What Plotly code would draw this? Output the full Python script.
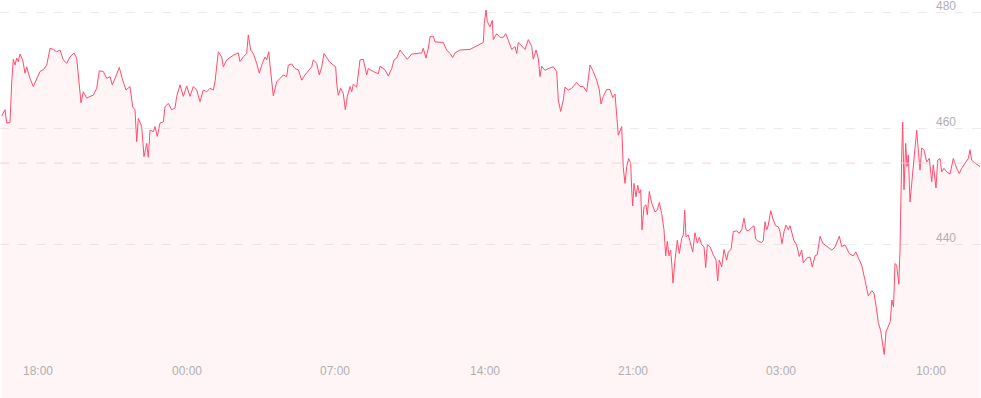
import plotly.graph_objects as go

# sample index (time position) and price values
t = [1.7, 5, 6.7, 10, 11.7, 13.3, 15, 16.7, 18.3, 20, 22.7, 25, 26.7, 30, 33.3, 36.7, 40, 43.3, 46.7, 50,
     53.3, 56.7, 60, 63.3, 66.7, 70, 74, 76.7, 79, 81, 83.3, 86.7, 90, 93.3, 96.7, 99.3, 103.3, 106.7, 110, 112.3,
     115, 119.3, 122.7, 126, 130, 132.7, 135, 136.7, 138.3, 141.7, 144, 146.7, 148.3, 150, 153.3, 155, 157.3, 160, 163.3, 165,
     168.3, 171.7, 175, 176.7, 180, 183.3, 186.7, 190, 193.3, 196.7, 200, 203.3, 206.7, 210, 213.3, 215, 218.3, 221.7, 223.3, 226.7,
     233.3, 238.3, 240, 243.3, 246.7, 248.3, 250.7, 253.3, 256.7, 259.3, 261.7, 265, 266.7, 268.7, 270.7, 273.3, 276.7, 280, 283.3, 286.7,
     288.3, 291.7, 295, 298.3, 301.7, 305, 308.3, 311.7, 313.3, 316.7, 319.3, 321.7, 324, 326.7, 329.3,
     333.3, 335.7, 336.7, 338.3, 340.7, 343.3, 345.3, 347.3, 350, 351.7, 353.3, 356.7, 360, 363.3, 366.7, 368.3, 373.3, 378.3, 380, 385,
     388.3, 391.7, 394, 396.7, 400, 403.3, 407.3, 411.7, 416.7, 421.7, 423.3, 426, 428.3, 430, 433.3, 435, 443.3, 446.7, 450, 452.7,
     455, 460, 470, 473.3, 480, 483.3, 484.3, 486, 487.3, 490, 492.3, 493.3, 496.7, 500, 503.3, 505.7, 508.3, 511.7, 515, 516.7,
     518.3, 521.7, 525, 528.3, 531.7, 533.3, 536, 538.3, 540, 541.7, 545, 548.3, 553.3, 556.7, 558.3, 560.7, 563.3, 565, 568.3, 571.7,
     576.7, 580, 583.3, 586.7, 590, 593.3, 596.7, 599.3, 601, 603.3, 606.7, 610, 612.7, 615, 616.7, 618.3, 621.7, 622.5, 623.3, 625,
     626.7, 628.7, 630.7, 631.7, 632.7, 634, 636, 637.7, 639.3, 640.7, 642, 644, 646, 647.3, 649.3, 651.7, 655, 657.3, 659.3, 661.7,
     664, 665.7, 667.3, 669, 670.7, 672, 673, 675, 677.3, 679.3, 681.7, 683.3, 684.7, 686, 688.3, 690, 692.7, 695, 697.3, 699.3,
     701.7, 704, 705.7, 707.3, 710, 713.3, 716, 717.7, 719.3, 721.7, 724, 726.7, 728.3, 731, 733.3, 736.7, 739.3, 741.7, 744, 746,
     748.3, 751.7, 754, 755.7, 758.3, 761.7, 763.3, 765, 766.7, 768.3, 770.7, 773.3, 775.7, 778.3, 780, 782, 784, 786, 788.3, 790,
     791.7, 794, 796.7, 799.3, 801.7, 803.3, 806.7, 810, 812.3, 815, 817.3, 820, 822.7, 825, 828.3, 831.7, 835, 839.3, 841.7, 845,
     849.3, 853.3, 855.7, 858.3, 861.7, 865, 866.7, 868.3, 871.7, 874, 876.3, 878.3, 880.7, 882.5, 884.2, 886, 888.3, 890.3, 891.8, 893.5,
     895, 896.7, 898.8, 900, 901.7, 902.7, 904, 905.7, 907, 908.3, 910, 911.7, 913.3, 915, 916.7, 918.3, 920, 921.7, 924, 926.7,
     929.3, 931.7, 933.3, 936, 937.7, 940, 941.7, 944, 946.7, 950, 953.3, 956.7, 959.3, 961.7, 965, 968.3, 970, 971.7, 975, 977.3, 980]

price = [462.1, 463.2, 460.9, 461.0, 467.8, 471.9, 470.9, 472.1, 471.5, 472.8, 471.8, 469.5, 470.6, 468.6, 467.2, 468.6, 469.8, 470.1, 470.9, 473.8,
         473.6, 473.2, 473.5, 471.8, 471.2, 472.3, 473.0, 472.1, 468.3, 464.4, 466.3, 465.2, 465.5, 465.7, 466.9, 469.9, 469.8, 468.6, 468.9, 467.5,
         468.6, 470.5, 468.3, 466.6, 467.2, 463.7, 463.2, 457.7, 461.7, 460.3, 455.1, 457.4, 455.0, 459.7, 459.4, 460.3, 458.6, 460.9, 461.1, 463.7,
         464.3, 463.2, 463.5, 465.5, 467.5, 465.5, 467.3, 465.5, 467.2, 466.6, 464.6, 466.6, 466.3, 466.9, 466.6, 468.0, 473.2, 472.3, 470.6, 471.8,
         472.6, 473.0, 471.5, 472.3, 472.9, 476.1, 473.5, 472.9, 471.2, 469.5, 470.9, 472.3, 471.8, 473.2, 469.8, 465.6, 468.0, 468.6, 469.2, 468.9,
         470.9, 471.1, 470.3, 470.1, 468.3, 469.2, 469.8, 470.6, 471.8, 471.2, 469.2, 470.6, 472.9, 472.1, 471.5,
         470.9, 470.6, 467.8, 465.7, 466.9, 466.0, 463.2, 465.5, 467.2, 466.3, 467.6, 467.1, 471.8, 471.9, 469.2, 470.3, 469.8, 469.4, 470.7, 470.1,
         469.0, 470.3, 471.8, 472.1, 473.5, 472.8, 471.9, 472.8, 472.9, 473.0, 473.8, 472.1, 473.8, 475.8, 475.9, 474.9, 474.8, 473.5, 472.9, 472.2,
         473.0, 473.5, 473.6, 473.9, 474.4, 474.8, 478.1, 480.4, 478.4, 477.5, 478.6, 475.3, 476.3, 475.7, 475.7, 476.3, 475.2, 473.6, 474.1, 472.9,
         474.8, 474.1, 473.6, 475.3, 474.1, 471.9, 473.5, 472.1, 468.9, 470.7, 470.0, 470.3, 470.6, 469.8, 464.9, 462.9, 464.9, 467.1, 466.6, 466.9,
         467.9, 467.2, 467.2, 466.3, 470.9, 469.8, 468.3, 466.6, 464.2, 465.5, 466.7, 466.7, 465.3, 465.9, 462.6, 458.8, 460.3, 456.3, 453.2, 450.5,
         453.4, 454.8, 454.0, 449.4, 446.6, 450.5, 448.2, 450.2, 448.8, 449.4, 442.5, 446.5, 446.8, 445.1, 449.1, 447.1, 445.6, 445.9, 447.2, 445.3,
         442.5, 438.0, 440.5, 438.0, 439.0, 436.1, 433.3, 437.3, 440.7, 438.4, 441.0, 441.6, 445.9, 441.3, 441.6, 440.5, 438.7, 442.0, 440.2, 441.2,
         439.9, 439.6, 436.0, 439.9, 439.6, 438.2, 437.3, 433.7, 437.3, 436.1, 439.1, 437.3, 438.7, 439.1, 442.2, 442.3, 441.9, 442.5, 444.5, 442.5,
         442.3, 442.9, 443.2, 440.9, 440.5, 440.3, 440.7, 443.9, 442.5, 443.3, 445.8, 444.2, 443.2, 443.0, 442.2, 440.1, 442.2, 443.3, 442.5, 443.2,
         442.2, 440.6, 439.9, 437.9, 439.0, 436.8, 437.6, 437.8, 436.1, 438.0, 438.2, 441.4, 440.2, 439.9, 439.6, 439.0, 439.5, 441.4, 439.6, 439.9,
         438.4, 438.0, 438.7, 437.6, 436.4, 433.8, 432.5, 431.1, 432.0, 431.6, 429.1, 426.5, 425.1, 423.1, 421.0, 424.9, 425.9, 426.7, 430.4, 429.2,
         436.7, 436.4, 433.1, 439.0, 455.1, 461.1, 449.4, 457.4, 453.4, 455.4, 447.3, 450.5, 452.8, 456.3, 459.7, 456.3, 452.8, 456.6, 456.3, 454.2,
         454.8, 450.8, 453.7, 449.7, 454.5, 454.8, 452.5, 453.1, 452.5, 452.1, 454.8, 453.1, 452.2, 453.1, 454.0, 454.8, 456.3, 454.5, 454.0, 453.7, 453.4]

prev_close = 454.0
tick_pos = [38, 187, 335, 485, 633, 781, 931]
tick_labels = ["18:00", "00:00", "07:00", "14:00", "21:00", "03:00", "10:00"]
y_ticks = [440, 460, 480]

fig = go.Figure()
fig.add_trace(go.Scatter(
    x=t, y=price, mode="lines",
    line=dict(color="#ff4d6d", width=1),
    fill="tozeroy", fillcolor="rgba(255,77,109,0.06)",
    hoverinfo="skip",
))
fig.add_hline(y=prev_close, line=dict(color="#f8d0d8", width=1, dash="dash"))

# y-axis value labels sit just above their gridlines, near the right edge
for v in y_ticks:
    fig.add_annotation(
        x=1, xref="paper", y=v, yref="y", text=str(v), showarrow=False,
        xanchor="right", yanchor="middle", xshift=-24, yshift=6, borderpad=0,
        font=dict(family="Liberation Sans, Arial, sans-serif", size=12, color="#b0b0b0"),
    )

fig.update_layout(
    width=981, height=398,
    margin=dict(l=0, r=0, t=0, b=0),
    paper_bgcolor="white", plot_bgcolor="white",
    showlegend=False,
    font=dict(family="Liberation Sans, Arial, sans-serif", size=12, color="#b0b0b0"),
)
fig.update_xaxes(
    range=[0, 981], tickvals=tick_pos, ticktext=tick_labels,
    showgrid=False, zeroline=False, showline=False,
    ticklabelposition="inside", ticks="", ticklabelstandoff=18,
    tickfont=dict(size=12, color="#b0b0b0"),
)
fig.update_yaxes(
    range=[413.5, 482.12], tickvals=y_ticks, side="right",
    showgrid=True, gridcolor="#ececec", griddash="dash", gridwidth=1,
    zeroline=False, showline=False, showticklabels=False, ticks="",
)

fig.write_html("out.html")
